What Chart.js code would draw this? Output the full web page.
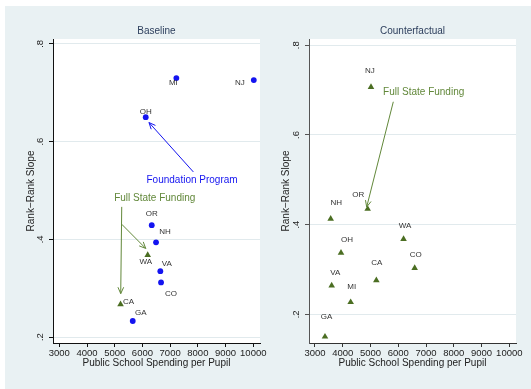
<!DOCTYPE html>
<html>
<head>
<meta charset="utf-8">
<script src="https://cdn.jsdelivr.net/npm/chart.js@4/dist/chart.umd.min.js"></script>
<style>
  html, body { margin: 0; padding: 0; background: #fff; }
  #panel { position: absolute; left: 5px; top: 6px; width: 526px; height: 383px; background: #e9f1f3; }
  #box-base { position: absolute; left: 5px; top: 6px; width: 265px; height: 383px; }
  #box-cf { position: absolute; left: 270px; top: 6px; width: 261px; height: 383px; }
</style>
</head>
<body>
<div id="panel"></div>
<div id="box-base"><canvas id="chart-base" width="265" height="383"></canvas></div>
<div id="box-cf"><canvas id="chart-cf" width="261" height="383"></canvas></div>
<script>
/* Baseline vs counterfactual rank-rank slopes by state, two Stata-style panels. */
(function () {
  "use strict";

  // ---- data ----
  var xTicks = [3000, 4000, 5000, 6000, 7000, 8000, 9000, 10000];
  var yTicks = [0.2, 0.4, 0.6, 0.8];

  // Baseline: foundation-program states (blue circles)
  var baseFoundStates = ["MI", "NJ", "OH", "OR", "NH", "VA", "CO", "GA"];
  var baseFoundSpend = [7224, 10018, 6119, 6336, 6491, 6646, 6671, 5650];
  var baseFoundSlope = [0.730, 0.726, 0.650, 0.429, 0.394, 0.335, 0.312, 0.233];
  // Baseline: full-state-funding states (green triangles)
  var baseFullStates = ["WA", "CA"];
  var baseFullSpend = [6190, 5210];
  var baseFullSlope = [0.368, 0.267];
  // Counterfactual: every state under full state funding
  var cfStates = ["NJ", "OR", "NH", "WA", "OH", "CO", "CA", "VA", "MI", "GA"];
  var cfSpend = [5017, 4898, 3565, 6190, 3937, 6591, 5210, 3601, 4285, 3360];
  var cfSlope = [0.707, 0.435, 0.413, 0.368, 0.337, 0.303, 0.276, 0.264, 0.227, 0.150];

  // ---- look ----
  var FONT = "'Liberation Sans', Arial, Helvetica, sans-serif";
  var BLUE = "#1414f0";
  var GREEN_MARK = "#4b6e22";
  var GREEN_TEXT = "#62883a";
  var GRID = "#e1eaed";

  // label offsets (px) from each marker
  var baseOffsets = { MI: [-3, 5], NJ: [-14, 2.5], OH: [0, -5.5], OR: [0, -11.5], NH: [9, -11],
                      WA: [-2, 7], VA: [6.5, -7.5], CO: [10, 11], CA: [8, -2.5], GA: [8, -8.5] };
  var cfOffsets = { NJ: [-1, -16.5], OR: [-9.5, -14.5], NH: [5.5, -16], WA: [1.5, -13.5], OH: [6, -13],
                    CO: [1, -13.5], CA: [0.5, -17.5], VA: [3.5, -12.5], MI: [1, -15], GA: [1.5, -19.5] };

  // annotations in data units
  var baseArrows = [
    { from: [7838, 0.538], to: [6238, 0.639], color: BLUE },
    { from: [5253, 0.4665], to: [5217, 0.289], color: GREEN_TEXT },
    { from: [5253, 0.431], to: [6119, 0.3815], color: GREEN_TEXT }
  ];
  var baseNotes = [
    { text: "Foundation Program", at: [7791, 0.522], color: BLUE },
    { text: "Full State Funding", at: [6444, 0.484], color: GREEN_TEXT }
  ];
  var cfArrows = [{ from: [5821, 0.674], to: [4862, 0.4393], color: GREEN_TEXT }];
  var cfNotes = [{ text: "Full State Funding", at: [6916, 0.696], color: GREEN_TEXT }];

  function pairs(xs, ys) {
    var out = [];
    for (var i = 0; i < xs.length; i++) out.push({ x: xs[i], y: ys[i] });
    return out;
  }

  function drawArrow(ctx, x1, y1, x2, y2, color) {
    var ang = Math.atan2(y2 - y1, x2 - x1), len = 7, spread = 0.42;
    ctx.strokeStyle = color;
    ctx.lineWidth = 1;
    ctx.beginPath();
    ctx.moveTo(x1, y1); ctx.lineTo(x2, y2);
    ctx.moveTo(x2 - len * Math.cos(ang - spread), y2 - len * Math.sin(ang - spread));
    ctx.lineTo(x2, y2);
    ctx.lineTo(x2 - len * Math.cos(ang + spread), y2 - len * Math.sin(ang + spread));
    ctx.stroke();
  }

  function decor(cfg) {
    return {
      id: "decor",
      beforeDraw: function (chart) {
        var a = chart.chartArea, c = chart.ctx;
        c.save();
        c.fillStyle = "#fff";
        c.fillRect(a.left, a.top, a.right - a.left, a.bottom - a.top);
        c.restore();
      },
      afterDatasetsDraw: function (chart) {
        var ctx = chart.ctx, xs = chart.scales.x, ys = chart.scales.y, i;
        ctx.save();
        for (i = 0; i < cfg.arrows.length; i++) {
          var ar = cfg.arrows[i];
          drawArrow(ctx, xs.getPixelForValue(ar.from[0]), ys.getPixelForValue(ar.from[1]),
                    xs.getPixelForValue(ar.to[0]), ys.getPixelForValue(ar.to[1]), ar.color);
        }
        ctx.textAlign = "center";
        ctx.textBaseline = "middle";
        ctx.font = "10px " + FONT;
        for (i = 0; i < cfg.notes.length; i++) {
          var n = cfg.notes[i];
          ctx.fillStyle = n.color;
          ctx.fillText(n.text, xs.getPixelForValue(n.at[0]), ys.getPixelForValue(n.at[1]));
        }
        ctx.font = "8px " + FONT;
        ctx.fillStyle = "#333";
        for (i = 0; i < cfg.labelSets.length; i++) {
          var set = cfg.labelSets[i], meta = chart.getDatasetMeta(set.dataset);
          for (var j = 0; j < set.names.length; j++) {
            var el = meta.data[j], off = cfg.offsets[set.names[j]];
            ctx.fillText(set.names[j], el.x + off[0], el.y + off[1]);
          }
        }
        ctx.restore();
      }
    };
  }

  function scales(o) {
    return {
      x: {
        type: "linear", min: o.xMin, max: o.xMax,
        afterBuildTicks: function (s) { s.ticks = xTicks.map(function (v) { return { value: v }; }); },
        afterFit: function (s) { s.height = 46; },
        border: { display: true, color: o.xAxisColor, width: 1 },
        grid: { drawOnChartArea: false, drawTicks: true, tickLength: 4, tickColor: o.xAxisColor },
        ticks: { color: "#222", font: { family: FONT, size: 9.5 }, padding: 1, maxRotation: 0,
                 autoSkip: false, callback: function (v) { return String(v); } },
        title: { display: true, text: "Public School Spending per Pupil", color: "#222",
                 font: { family: FONT, size: 10 }, padding: { top: 0, bottom: 20 } }
      },
      y: {
        type: "linear", min: o.yMin, max: o.yMax,
        afterBuildTicks: function (s) { s.ticks = yTicks.map(function (v) { return { value: v }; }); },
        afterFit: function (s) { s.width = o.yWidth; },
        border: { display: true, color: o.yAxisColor, width: 1 },
        grid: { color: GRID, lineWidth: 1, drawTicks: true, tickLength: 4, tickColor: o.yAxisColor },
        ticks: { color: "#222", font: { family: FONT, size: 9.5 }, padding: o.yPad,
                 minRotation: 90, maxRotation: 90, crossAlign: "center", autoSkip: false,
                 callback: function (v) { return v.toFixed(1).replace(/^0/, ""); } },
        title: { display: true, text: "Rank\u2212Rank Slope", color: "#222",
                 font: { family: FONT, size: 10 }, padding: { top: o.yTitlePad, bottom: 0 } }
      }
    };
  }

  function panel(canvasId, title, datasets, o, deco) {
    return new Chart(document.getElementById(canvasId), {
      type: "scatter",
      data: { datasets: datasets },
      options: {
        responsive: false, animation: false, events: [],
        layout: { padding: { left: 0, right: o.padRight, top: 0, bottom: 0 } },
        scales: scales(o),
        plugins: {
          legend: { display: false }, tooltip: { enabled: false },
          title: { display: true, text: title, fullSize: false, color: "#2c3e5c",
                   font: { family: FONT, size: 10, weight: "normal" }, padding: { top: 19, bottom: 2 } }
        }
      },
      plugins: [decor(deco)]
    });
  }

  function circles(data) {
    return { data: data, pointStyle: "circle", pointRadius: 2.9, backgroundColor: BLUE, borderColor: BLUE, borderWidth: 0 };
  }
  function triangles(data) {
    return { data: data, pointStyle: "triangle", pointRadius: 3.8, backgroundColor: GREEN_MARK, borderColor: GREEN_MARK, borderWidth: 0 };
  }

  panel("chart-base", "Baseline",
    [circles(pairs(baseFoundSpend, baseFoundSlope)), triangles(pairs(baseFullSpend, baseFullSlope))],
    { xMin: 2773, xMax: 10242, yMin: 0.188, yMax: 0.81, yWidth: 48, yPad: 4.5, yTitlePad: 20,
      padRight: 10, xAxisColor: "#111", yAxisColor: "#111" },
    { arrows: baseArrows, notes: baseNotes, offsets: baseOffsets,
      labelSets: [{ dataset: 0, names: baseFoundStates }, { dataset: 1, names: baseFullStates }] });

  panel("chart-cf", "Counterfactual",
    [triangles(pairs(cfSpend, cfSlope))],
    { xMin: 2784, xMax: 10241, yMin: 0.136, yMax: 0.814, yWidth: 39, yPad: 5, yTitlePad: 10,
      padRight: 15, xAxisColor: "#333", yAxisColor: "#555" },
    { arrows: cfArrows, notes: cfNotes, offsets: cfOffsets,
      labelSets: [{ dataset: 0, names: cfStates }] });
})();
</script>
</body>
</html>
